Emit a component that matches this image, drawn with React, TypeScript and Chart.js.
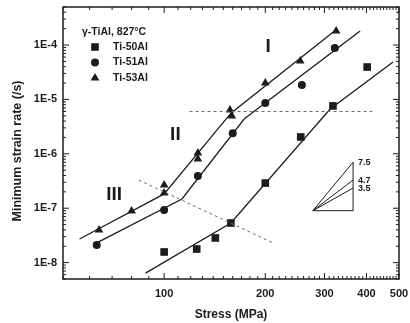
import React, { useEffect, useRef } from 'react';
import { Chart, registerables } from 'chart.js';

Chart.register(...registerables);

// ---- measured data (stress in MPa, minimum strain rate in 1/s) ----
const ti50Stress = [100, 125, 142, 158, 200, 255, 318, 402];
const ti50Rate = [1.57e-8, 1.78e-8, 2.84e-8, 5.35e-8, 2.9e-7, 2.04e-6, 7.6e-6, 3.94e-5];

const ti51Stress = [63, 100, 126, 160, 200, 257, 322];
const ti51Rate = [2.1e-8, 9.3e-8, 3.9e-7, 2.4e-6, 8.6e-6, 1.84e-5, 8.8e-5];

const ti53Stress = [64, 80, 100, 100, 126, 126, 157, 159, 200, 254, 325];
const ti53Rate = [3.98e-8, 8.9e-8, 2.67e-7, 1.9e-7, 1.04e-6, 8.0e-7, 6.4e-6, 4.96e-6, 2.0e-5, 5.1e-5, 1.81e-4];

// ---- fitted piecewise lines ----
const fit53Stress = [56, 100, 158, 327];
const fit53Rate = [2.72e-8, 1.83e-7, 5.6e-6, 1.97e-4];
const fit51Stress = [63, 113, 173, 383];
const fit51Rate = [2.3e-8, 1.48e-7, 4.37e-6, 1.81e-4];
const fit50Stress = [88, 158, 312, 480];
const fit50Rate = [6.4e-9, 5.35e-8, 6.67e-6, 4.88e-5];

// ---- dashed regime boundaries ----
const dashHStress = [119, 416];
const dashHRate = [6e-6, 6e-6];
const dashDStress = [84, 211];
const dashDRate = [3.3e-7, 2.3e-8];

// ---- slope triangle inset ----
const triStress = [277, 365, 365, 277];
const triRate = [9e-8, 9e-8, 7.0e-7, 9e-8];
const tri47Stress = [277, 365];
const tri47Rate = [9e-8, 3.3e-7];
const tri35Stress = [277, 365];
const tri35Rate = [9e-8, 2.35e-7];
const slopeLabels = ['7.5', '4.7', '3.5'];
const slopeLabelRates = [7.0e-7, 3.3e-7, 2.35e-7];

// ---- axes ----
const xTickValues = [100, 200, 300, 400, 500];
const yTickValues = [1e-8, 1e-7, 1e-6, 1e-5, 1e-4];
const xMin = 50, xMax = 500, yMin = 5e-9, yMax = 5e-4;

// ---- texts ----
const xTitle = 'Stress (MPa)';
const yTitle = 'Minimum strain rate (/s)';
const legendTitle = 'γ-TiAl, 827°C';
const seriesNames = ['Ti-50Al', 'Ti-51Al', 'Ti-53Al'];
const regimeLabels = ['I', 'II', 'III'];
const regimeStress = [204, 108, 71];
const regimeRate = [9.2e-5, 2.2e-6, 1.75e-7];

const INK = '#1c1c1c';
const FONT = '"Liberation Sans", Arial, sans-serif';

function drawMarker(ctx: CanvasRenderingContext2D, style: string, x: number, y: number) {
  ctx.beginPath();
  if (style === 'rect') {
    ctx.rect(x - 3.8, y - 3.8, 7.6, 7.6);
  } else if (style === 'circle') {
    ctx.arc(x, y, 4, 0, Math.PI * 2);
  } else {
    ctx.moveTo(x, y - 5);
    ctx.lineTo(x + 4.4, y + 2.6);
    ctx.lineTo(x - 4.4, y + 2.6);
    ctx.closePath();
  }
  ctx.fill();
}

const decor = {
  id: 'decor',
  afterDraw(chart: any) {
    const { ctx, chartArea: a, scales } = chart;
    const x = scales.x, y = scales.y;
    ctx.save();
    ctx.strokeStyle = INK;
    ctx.fillStyle = INK;
    // frame
    ctx.lineWidth = 1.5;
    ctx.strokeRect(a.left, a.top, a.right - a.left, a.bottom - a.top);
    // ticks (inward, all sides)
    ctx.lineWidth = 1;
    ctx.beginPath();
    for (let v = xMin; v <= xMax + 0.01; v += 10) {
      const px = x.getPixelForValue(v);
      const len = xTickValues.includes(Math.round(v)) ? 6 : 3;
      ctx.moveTo(px, a.bottom); ctx.lineTo(px, a.bottom - len);
      ctx.moveTo(px, a.top); ctx.lineTo(px, a.top + len);
    }
    for (let e = -9; e <= -4; e++) {
      for (let k = 1; k <= 9; k++) {
        const v = k * Math.pow(10, e);
        if (v < yMin * 0.999 || v > yMax * 1.001) continue;
        const py = y.getPixelForValue(v);
        const len = k === 1 ? 6 : 3;
        ctx.moveTo(a.left, py); ctx.lineTo(a.left + len, py);
        ctx.moveTo(a.right, py); ctx.lineTo(a.right - len, py);
      }
    }
    ctx.stroke();

    // y axis title
    ctx.save();
    ctx.font = `bold 12.5px ${FONT}`;
    ctx.textAlign = 'center';
    ctx.textBaseline = 'middle';
    ctx.translate(18, (a.top + a.bottom) / 2 + 8);
    ctx.rotate(-Math.PI / 2);
    ctx.fillText(yTitle, 0, 0);
    ctx.restore();

    // legend
    ctx.textBaseline = 'middle';
    ctx.textAlign = 'left';
    ctx.font = `bold 10.5px ${FONT}`;
    ctx.fillText(legendTitle, a.left + 19, a.top + 25);
    const styles = ['rect', 'circle', 'triangle'];
    for (let i = 0; i < 3; i++) {
      const yy = a.top + 40 + i * 15.5;
      drawMarker(ctx, styles[i], a.left + 32, yy);
      ctx.fillText(seriesNames[i], a.left + 50, yy);
    }

    // slope labels
    ctx.font = `bold 9px ${FONT}`;
    for (let i = 0; i < slopeLabels.length; i++) {
      ctx.fillText(slopeLabels[i], x.getPixelForValue(triStress[1]) + 5, y.getPixelForValue(slopeLabelRates[i]));
    }

    // regime labels
    ctx.font = `bold 19px ${FONT}`;
    ctx.textAlign = 'center';
    for (let i = 0; i < regimeLabels.length; i++) {
      ctx.fillText(regimeLabels[i], x.getPixelForValue(regimeStress[i]), y.getPixelForValue(regimeRate[i]));
    }
    ctx.restore();
  },
};

export default function App() {
  const ref = useRef<HTMLCanvasElement>(null);
  useEffect(() => {
    if (!ref.current) return;
    const pts = (xs: number[], ys: number[]) => xs.map((v, i) => ({ x: v, y: ys[i] }));
    const markers = (label: string, xs: number[], ys: number[], style: string, r: number) => ({
      label, data: pts(xs, ys), showLine: false, pointStyle: style, pointRadius: r,
      backgroundColor: INK, borderColor: INK, borderWidth: 0,
    });
    const line = (xs: number[], ys: number[], dashed = false, width = 1.3) => ({
      data: pts(xs, ys), showLine: true, pointRadius: 0,
      borderColor: dashed ? '#6a6a6a' : INK, borderWidth: dashed ? 1 : width,
      borderDash: dashed ? [3, 3] : [], fill: false, tension: 0,
    });
    const chart = new Chart(ref.current, {
      type: 'scatter',
      data: {
        datasets: [
          line(dashHStress, dashHRate, true),
          line(dashDStress, dashDRate, true),
          line(fit53Stress, fit53Rate),
          line(fit51Stress, fit51Rate),
          line(fit50Stress, fit50Rate),
          line(triStress, triRate, false, 1),
          line(tri47Stress, tri47Rate, false, 1),
          line(tri35Stress, tri35Rate, false, 1),
          markers(seriesNames[0], ti50Stress, ti50Rate, 'rect', 5.4),
          markers(seriesNames[1], ti51Stress, ti51Rate, 'circle', 4),
          markers(seriesNames[2], ti53Stress, ti53Rate, 'triangle', 5),
        ] as any,
      },
      options: {
        animation: false,
        responsive: true,
        maintainAspectRatio: false,
        layout: { padding: { left: 0, right: 11, top: 7, bottom: 1 } },
        plugins: { legend: { display: false }, tooltip: { enabled: false } },
        scales: {
          x: {
            type: 'logarithmic', min: xMin, max: xMax, position: 'bottom',
            afterBuildTicks: (s: any) => { s.ticks = xTickValues.map((v) => ({ value: v })); },
            afterFit: (s: any) => { s.height = 43; s.paddingLeft = 0; s.paddingRight = 0; },
            grid: { display: false, drawTicks: false },
            border: { display: false },
            ticks: {
              autoSkip: false, maxRotation: 0, padding: 8, color: INK,
              font: { family: FONT, size: 11, weight: 'bold' },
              callback: (v: any) => String(v),
            },
            title: {
              display: true, text: xTitle, color: INK, padding: 0,
              font: { family: FONT, size: 12, weight: 'bold' },
            },
          },
          y: {
            type: 'logarithmic', min: yMin, max: yMax,
            afterBuildTicks: (s: any) => { s.ticks = yTickValues.map((v) => ({ value: v })); },
            afterFit: (s: any) => { s.width = 63; s.paddingTop = 0; s.paddingBottom = 0; },
            grid: { display: false, drawTicks: false },
            border: { display: false },
            ticks: {
              autoSkip: false, padding: 6, color: INK,
              font: { family: FONT, size: 11, weight: 'bold' },
              callback: (v: any) => '1E' + Math.round(Math.log10(Number(v))),
            },
          },
        },
      } as any,
      plugins: [decor],
    });
    return () => chart.destroy();
  }, []);
  return (
    <div style={{ position: 'fixed', left: 0, top: 0, width: 410, height: 323, background: '#fff' }}>
      <canvas ref={ref} />
    </div>
  );
}
